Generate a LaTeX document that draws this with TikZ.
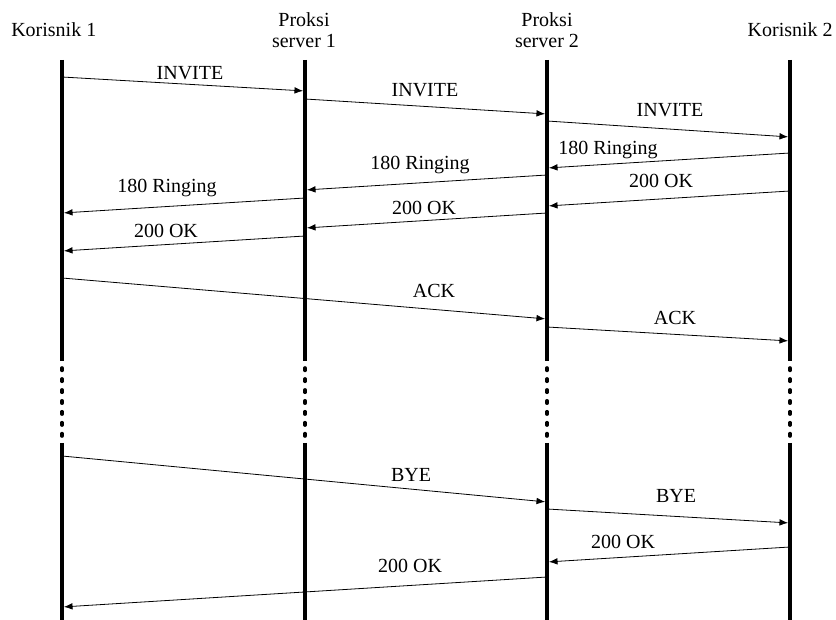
\documentclass[tikz,border=0pt]{standalone}
\usepackage{fontspec}
\setmainfont{Liberation Serif}
\usetikzlibrary{arrows.meta, calc}
\tikzset{
  actor/.style={
    font=\fontsize{15}{15.75}\selectfont, align=center,
    inner sep=0pt, anchor=base,
  },
  lifeline/.style={line width=2.7pt},
  lifegap/.style={line width=2.7pt, line cap=round,
                  dash pattern=on 1.8pt off 6.4pt},
  msg/.style={
    -{Latex[length=6.5pt,width=5pt]}, line width=0.6pt, shorten >=1.4pt,
  },
  lbl/.style={
    font=\fontsize{15}{17}\selectfont, inner sep=0pt, anchor=base,
  },
}

\begin{document}
\begin{tikzpicture}[x=0.75pt, y=-0.75pt]
\useasboundingbox (0,0) rectangle (836,620);

% ── Participants ─────────────────────────────────────────────────────────
\node[actor, anchor=base west] (K1) at ( 11, 37) {Korisnik 1};
\node[actor] (P1) at (304, 48) {Proksi\\server 1};
\node[actor] (P2) at (547, 48) {Proksi\\server 2};
\node[actor, anchor=base east] (K2) at (833, 37) {Korisnik 2};

% lifeline anchor points: top, start of gap, end of gap, bottom
\coordinate (K1t) at ( 62,  60); \coordinate (K1g) at ( 62, 361);
\coordinate (P1t) at (305,  60); \coordinate (P1g) at (305, 361);
\coordinate (P2t) at (547,  60); \coordinate (P2g) at (547, 361);
\coordinate (K2t) at (790,  60); \coordinate (K2g) at (790, 361);
\coordinate (K1r) at ( 62, 443); \coordinate (K1b) at ( 62, 622);
\coordinate (P1r) at (305, 443); \coordinate (P1b) at (305, 622);
\coordinate (P2r) at (547, 443); \coordinate (P2b) at (547, 622);
\coordinate (K2r) at (790, 443); \coordinate (K2b) at (790, 622);

% ── Lifelines ────────────────────────────────────────────────────────────
\draw[lifeline] (K1t) -- (K1g);  \draw[lifegap] ($(K1g)+(0,7)$) -- (K1r);  \draw[lifeline] (K1r) -- (K1b);
\draw[lifeline] (P1t) -- (P1g);  \draw[lifegap] ($(P1g)+(0,7)$) -- (P1r);  \draw[lifeline] (P1r) -- (P1b);
\draw[lifeline] (P2t) -- (P2g);  \draw[lifegap] ($(P2g)+(0,7)$) -- (P2r);  \draw[lifeline] (P2r) -- (P2b);
\draw[lifeline] (K2t) -- (K2g);  \draw[lifegap] ($(K2g)+(0,7)$) -- (K2r);  \draw[lifeline] (K2r) -- (K2b);

% ── Call setup ───────────────────────────────────────────────────────────
\draw[msg] (K1t |- 0,77)  -- (P1t |- 0,91);
\node[lbl] (inv1) at (190, 80) {INVITE};
\draw[msg] (P1t |- 0,99)  -- (P2t |- 0,114);
\node[lbl] (inv2) at (425, 97) {INVITE};
\draw[msg] (P2t |- 0,121) -- (K2t |- 0,137);
\node[lbl] (inv3) at (670, 117) {INVITE};

\draw[msg] (K2t |- 0,153) -- (P2t |- 0,168);
\node[lbl] (ring2) at (608, 155) {180 Ringing};
\draw[msg] (P2t |- 0,175) -- (P1t |- 0,190);
\node[lbl] (ring1) at (420, 170) {180 Ringing};
\draw[msg] (P1t |- 0,198) -- (K1t |- 0,213);
\node[lbl] (ring0) at (167, 193) {180 Ringing};

\draw[msg] (K2t |- 0,191) -- (P2t |- 0,206);
\node[lbl] (ok3) at (661, 188) {200 OK};
\draw[msg] (P2t |- 0,213) -- (P1t |- 0,228);
\node[lbl] (ok2) at (424, 215) {200 OK};
\draw[msg] (P1t |- 0,236) -- (K1t |- 0,251);
\node[lbl] (ok1) at (166, 238) {200 OK};

\draw[msg] (K1t |- 0,278) -- (P2t |- 0,319);
\node[lbl] (ack1) at (434, 298) {ACK};
\draw[msg] (P2t |- 0,327) -- (K2t |- 0,341);
\node[lbl] (ack2) at (675, 325) {ACK};

% ── Teardown ─────────────────────────────────────────────────────────────
\draw[msg] (K1r |- 0,456) -- (P2r |- 0,502);
\node[lbl] (bye1) at (411, 481) {BYE};
\draw[msg] (P2r |- 0,509) -- (K2r |- 0,523);
\node[lbl] (bye2) at (676, 503) {BYE};

\draw[msg] (K2r |- 0,547) -- (P2r |- 0,562);
\node[lbl] (ok5) at (623, 548) {200 OK};
\draw[msg] (P2r |- 0,577) -- (K1r |- 0,607);
\node[lbl] (ok4) at (410, 572) {200 OK};

\end{tikzpicture}
\end{document}
